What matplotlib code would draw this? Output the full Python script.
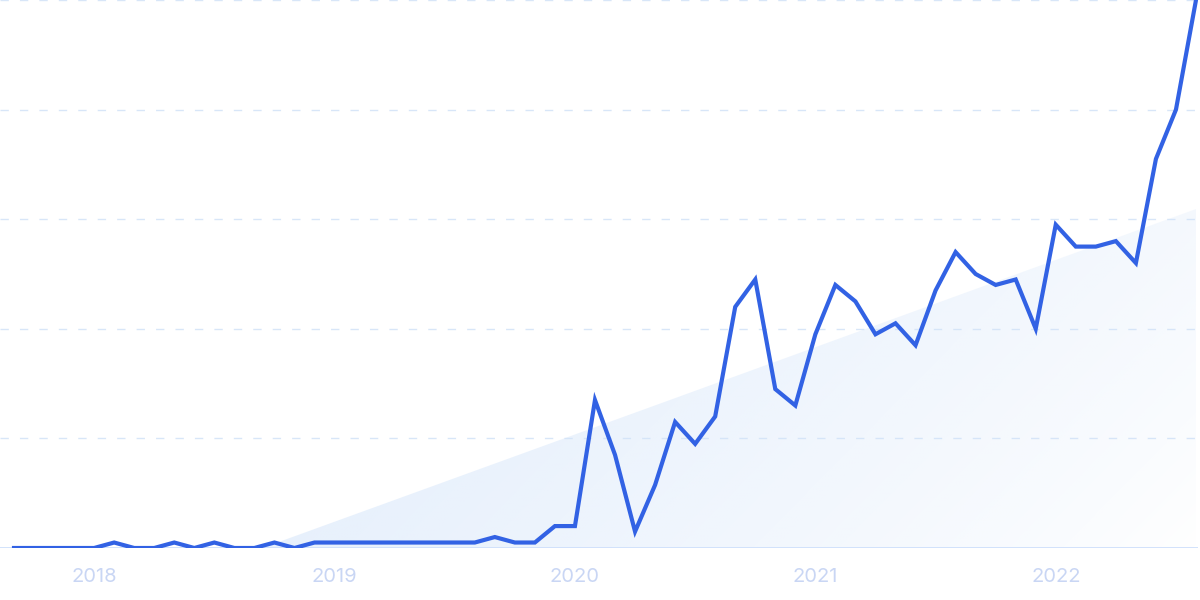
import numpy as np
import matplotlib
matplotlib.use("Agg")
import matplotlib.pyplot as plt
from matplotlib.patches import Polygon

# Monthly values, Sep 2017 .. Aug 2022
months = np.arange(60)
values = [0, 0, 0, 0, 0, 1, 0, 0, 1, 0, 1, 0, 0, 1, 0,
          1, 1, 1, 1, 1, 1, 1, 1, 1, 2, 1, 1, 4, 4, 27,
          17, 3, 11.5, 23, 19, 24, 44, 49, 29, 26, 39, 48, 45, 39, 41,
          37, 47, 54, 50, 48, 49, 40, 59, 55, 55, 56, 52, 71, 80, 100]
tick_labels = ["2018", "2019", "2020", "2021", "2022"]
tick_months = [4, 16, 28, 40, 52]
grid_levels = [20, 40, 60, 80, 100]

values = np.array(values, dtype=float)

W, H = 1200, 600
fig = plt.figure(figsize=(12, 6), dpi=100)
ax_left_px, ax_right_px = 0, 1198
ax_bottom_px = 52
ax = fig.add_axes([ax_left_px / W, ax_bottom_px / H, (ax_right_px - ax_left_px) / W, (H - ax_bottom_px) / H])

px_per = (1196 - 14) / 59.0
x0 = -(14 - ax_left_px) / px_per
x1 = 59 + (ax_right_px - 1196) / px_per
ax.set_xlim(x0, x1)
ax.set_ylim(0, 100)

# Trend (linear regression) area with gradient
slope, intercept = np.polyfit(months, values, 1)
xs = np.linspace(0, 59, 400)
ys = np.clip(slope * xs + intercept, 0, None)
poly_pts = [(xs[0], 0)] + list(zip(xs, ys)) + [(59, 0)]
poly = Polygon(poly_pts, closed=True, facecolor="none", edgecolor="none")
ax.add_patch(poly)

nx, ny = 400, 200
u = np.linspace(0, 1, nx)[None, :]
v = np.linspace(1, 0, ny)[:, None]
t = u - 0.45 * v
alpha = np.clip(1.0 - t, 0, 1) ** 0.8 * 0.66
rgba = np.zeros((ny, nx, 4))
rgba[..., 0] = 0xd3 / 255
rgba[..., 1] = 0xe4 / 255
rgba[..., 2] = 0xfa / 255
rgba[..., 3] = alpha
im = ax.imshow(rgba, extent=[x0, x1, 0, 100], aspect="auto", origin="upper", zorder=1, interpolation="bilinear")
im.set_clip_path(poly)

# Grid lines
for g in grid_levels:
    ax.axhline(g, color="#d8e6f8", lw=1.0, ls=(0, (6, 8)), zorder=0.5)
ax.axhline(0, color="#cfe0fb", lw=1.3, zorder=2)

ax.plot(months, values, color="#3262e4", lw=3.0, solid_joinstyle="miter", zorder=3, clip_on=True)

for s in ax.spines.values():
    s.set_visible(False)
ax.set_yticks([])
ax.set_xticks(tick_months)
ax.set_xticklabels(tick_labels, fontsize=14.5, color="#c9d6f4", family=["Inter", "DejaVu Sans"])
ax.tick_params(axis="x", length=0, pad=14.5)

fig.savefig("out.png", dpi=100)
